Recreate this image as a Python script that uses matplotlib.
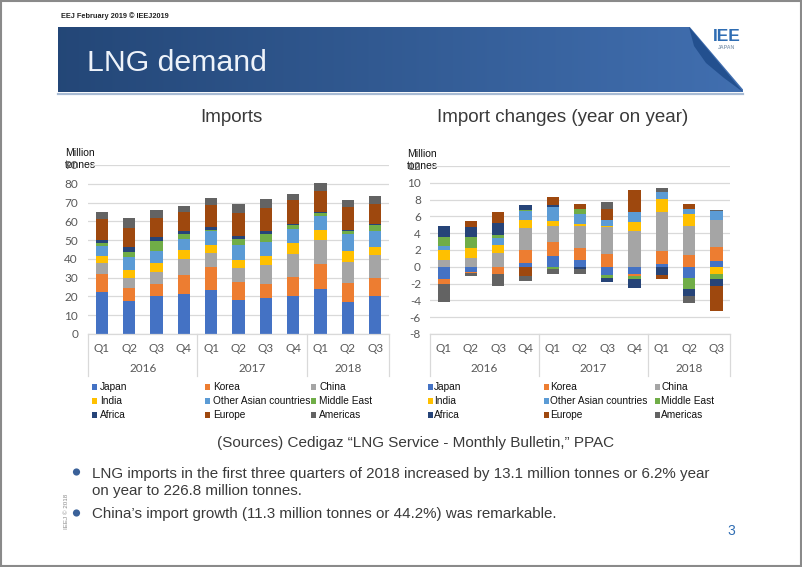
import matplotlib
matplotlib.use("Agg")
import matplotlib.pyplot as plt
import numpy as np
from matplotlib.patches import Rectangle, Polygon, Circle

plt.rcParams["axes.unicode_minus"] = False

# ---- data (million tonnes) ----
quarters = ["Q1", "Q2", "Q3", "Q4", "Q1", "Q2", "Q3", "Q4", "Q1", "Q2", "Q3"]
years = ["2016", "2017", "2018"]
year_spans = [(0, 3), (4, 7), (8, 10)]
regions = ["Japan", "Korea", "China", "India", "Other Asian countries",
           "Middle East", "Africa", "Europe", "Americas"]
colors = ["#4472C4", "#ED7D31", "#A5A5A5", "#FFC000", "#5B9BD5",
          "#70AD47", "#264478", "#9E480E", "#636363"]

# imports
japan = [22.2, 17.6, 20.4, 21.3, 23.6, 18.3, 19.4, 20.1, 24.2, 17.2, 20.4]
korea = [9.8, 6.9, 6.4, 10.3, 12.0, 9.3, 7.4, 10.1, 13.3, 10.0, 9.5]
china = [5.9, 5.4, 6.1, 8.4, 7.6, 7.6, 10.2, 12.5, 12.5, 11.4, 12.4]
india = [3.9, 4.4, 4.8, 4.6, 4.3, 4.4, 4.6, 5.8, 5.6, 5.5, 4.1]
other_asia = [5.0, 6.8, 6.7, 6.1, 7.1, 7.9, 7.6, 7.5, 7.5, 8.9, 8.4]
middle_east = [1.6, 2.6, 5.0, 2.3, 1.0, 3.2, 4.0, 1.8, 1.1, 1.8, 3.0]
africa = [1.6, 2.5, 2.3, 1.8, 1.3, 1.4, 1.7, 1.0, 0.7, 0.7, 1.0]
europe = [11.0, 10.3, 10.2, 10.1, 11.9, 12.1, 12.1, 12.8, 11.2, 12.2, 10.2]
americas = [3.9, 5.4, 4.2, 3.2, 3.6, 4.8, 5.0, 3.1, 4.4, 3.9, 4.4]

# import changes, year on year
japan_chg = [-1.5, -0.6, 0.0, 0.5, 1.3, 0.8, -1.0, -0.8, 0.3, -1.3, 0.7]
korea_chg = [-0.5, -0.1, -0.9, 1.5, 1.7, 1.4, 1.5, -0.3, 1.6, 1.4, 1.7]
china_chg = [0.8, 1.1, 1.7, 2.6, 1.8, 2.7, 3.2, 4.3, 4.6, 3.4, 3.2]
india_chg = [1.2, 1.1, 0.9, 1.0, 0.7, 0.2, 0.1, 1.0, 1.6, 1.5, -0.9]
other_asia_chg = [0.5, 0.0, 0.8, 1.0, 1.6, 1.2, 0.8, 1.2, 0.8, 0.6, 1.0]
middle_east_chg = [1.1, 1.3, 0.4, 0.2, -0.3, 0.6, -0.3, -0.4, 0.0, -1.4, -0.6]
africa_chg = [1.3, 1.2, 1.4, 0.6, 0.2, -0.3, -0.5, -1.0, -1.0, -0.8, -0.8]
europe_chg = [0.0, 0.8, 1.3, -1.1, 1.0, 0.6, 1.3, 2.6, -0.5, 0.6, -3.0]
americas_chg = [-2.2, -0.4, -1.4, -0.6, -0.6, -0.5, 0.8, 0.0, 0.5, -0.8, 0.2]

imports = [japan, korea, china, india, other_asia, middle_east, africa, europe, americas]
changes = [japan_chg, korea_chg, china_chg, india_chg, other_asia_chg,
           middle_east_chg, africa_chg, europe_chg, americas_chg]

W, H = 802, 567
fig = plt.figure(figsize=(W / 100, H / 100), dpi=100)
fig.patch.set_facecolor("white")

# overlay in pixel coordinates for slide decoration
ov = fig.add_axes([0, 0, 1, 1], zorder=0)
ov.set_xlim(0, W)
ov.set_ylim(H, 0)
ov.axis("off")

SANS = "Liberation Sans"
TXT = "#3a3a3a"

# slide border
ov.add_patch(Rectangle((0.8, 0.8), W - 1.6, H - 1.6, fill=False, ec="#8a8a8a", lw=1.5))
ov.text(61, 16, "EEJ February 2019 \u00a9 IEEJ2019", fontsize=5.3, family=SANS,
        color="#222222", va="center", fontweight="bold")

# banner with gradient
c0 = np.array([0.140, 0.278, 0.468])
c1 = np.array([0.255, 0.435, 0.690])
t = np.linspace(0, 1, 256)
grad = (c0[None, :] * (1 - t[:, None]) + c1[None, :] * t[:, None])[None, :, :]
ov.imshow(grad, extent=(58, 743, 92, 27), aspect="auto", zorder=1)
ov.plot([58, 743], [93.8, 93.8], color="#a8bbd4", lw=1.6, zorder=1)
# page curl
ov.add_patch(Polygon([(689, 26), (746, 26), (746, 93)], closed=True,
                     fc="white", ec="none", zorder=2))
ov.add_patch(Polygon([(689, 27), (694, 46), (706, 63), (724, 78), (743, 92)], closed=True,
                     fc="#23508f", ec="none", zorder=3))
ov.text(727, 36.5, "IEE", fontsize=12.5, family=SANS, fontweight="bold",
        color="#2f6db3", ha="center", va="center", zorder=4)
ov.text(727, 47.5, "JAPAN", fontsize=3.8, family=SANS, fontweight="bold",
        color="#8fa3b8", ha="center", va="center", zorder=4)
ov.text(87, 71, "LNG demand", fontsize=21.8, family=SANS, color="#eef3fa",
        va="baseline", zorder=4)

# section titles
ov.text(231, 117, "Imports", fontsize=13.5, family=SANS, color=TXT,
        ha="center", va="center")
ov.text(563, 117, "Import changes (year on year)", fontsize=13.5, family=SANS,
        color=TXT, ha="center", va="center")

TICK = "#595959"
GRID = "#D9D9D9"


def make_axes(rect_px, ylim, yticks, ylab_x):
    x0, x1, ytop, ybot = rect_px
    ax = fig.add_axes([x0 / W, 1 - ybot / H, (x1 - x0) / W, (ybot - ytop) / H], zorder=2)
    ax.set_facecolor("none")
    ax.set_xlim(-0.5, len(quarters) - 0.5)
    ax.set_ylim(*ylim)
    ax.set_yticks(yticks)
    ax.yaxis.grid(True, color=GRID, lw=0.9)
    ax.set_axisbelow(True)
    for s in ax.spines.values():
        s.set_visible(False)
    ax.tick_params(axis="y", length=0, pad=(x0 - ylab_x) * 0.72, labelsize=8.5,
                   labelcolor=TICK)
    for lab in ax.get_yticklabels():
        lab.set_family("Lato")
    ax.set_xticks([])
    # category axis: two levels
    hpx = ybot - ytop
    xt = ax.get_xaxis_transform()
    ax.plot([-0.5, len(quarters) - 0.5], [0, 0], transform=xt, color=GRID,
            lw=0.9, clip_on=False)
    for i, q in enumerate(quarters):
        ax.text(i, -(349 - ybot) / hpx, q, transform=xt, ha="center", va="center",
                fontsize=8.5, color=TICK, family="Lato")
    for yr, (a, b) in zip(years, year_spans):
        ax.text((a + b) / 2, -(369 - ybot) / hpx, yr, transform=xt, ha="center",
                va="center", fontsize=8.5, color=TICK, family="Lato")
    for xs in [-0.5, 3.5, 7.5, len(quarters) - 0.5]:
        ax.plot([xs, xs], [0, -(376 - ybot) / hpx], transform=xt, color=GRID,
                lw=0.9, clip_on=False)
    ov.text(x0 - 23, ytop - 6, "Million\ntonnes", fontsize=7.5, family=SANS,
            color="#111111", va="center", linespacing=1.25, zorder=5)
    return ax


x = np.arange(len(quarters))
BW = 0.45

# left: imports
ax1 = make_axes((88, 389, 165, 334), (0, 90), np.arange(0, 91, 10), 78)
base = np.zeros(len(quarters))
for vals, c in zip(imports, colors):
    ax1.bar(x, vals, bottom=base, width=BW, color=c, lw=0)
    base = base + np.array(vals)

# right: year-on-year changes (diverging stack)
ax2 = make_axes((430, 730, 166, 334), (-8, 12), np.arange(-8, 13, 2), 421)
pos = np.zeros(len(quarters))
neg = np.zeros(len(quarters))
for vals, c in zip(changes, colors):
    v = np.array(vals)
    bottoms = np.where(v >= 0, pos, neg)
    ax2.bar(x, v, bottom=bottoms, width=BW, color=c, lw=0)
    pos = pos + np.clip(v, 0, None)
    neg = neg + np.clip(v, None, 0)

# legends (3 x 3)
rows_y = [387, 401, 415]
left_cols = [92, 205, 311]
right_cols = [428, 544, 655]
for i, (name, c) in enumerate(zip(regions, colors)):
    r, k = divmod(i, 3)
    for cols, gap in ((left_cols, 8), (right_cols, 6)):
        xs = cols[k]
        ov.add_patch(Rectangle((xs, rows_y[r] - 2.8), 5.4, 5.4, fc=c, ec="none"))
        ov.text(xs + gap, rows_y[r], name, fontsize=7.3, family=SANS,
                color="#111111", va="center")

# sources and notes
ov.text(416, 443, "(Sources) Cedigaz \u201cLNG Service - Monthly Bulletin,\u201d PPAC",
        fontsize=11, family=SANS, color=TXT, ha="center", va="center")
BUL = "#3a6199"
for yb in (473, 514):
    ov.add_patch(Circle((76.5, yb - 1), 3.6, fc=BUL, ec="none"))
ov.text(92.5, 478, "LNG imports in the first three quarters of 2018 increased by "
        "13.1 million tonnes or 6.2% year", fontsize=10.9, family=SANS, color=TXT,
        va="baseline")
ov.text(92.5, 495, "on year to 226.8 million tonnes.", fontsize=10.9, family=SANS,
        color=TXT, va="baseline")
ov.text(92.5, 518, "China\u2019s import growth (11.3 million tonnes or 44.2%) was remarkable.",
        fontsize=10.9, family=SANS, color=TXT, va="baseline")
ov.text(66, 511, "IEEJ \u00a9 2018", fontsize=4.5, family=SANS, color="#8a8a8a",
        rotation=90, ha="center", va="center")
ov.text(731, 531, "3", fontsize=10, family=SANS, color="#2f6db3", ha="center",
        va="center")

fig.savefig("out.png", dpi=100, facecolor="white")
